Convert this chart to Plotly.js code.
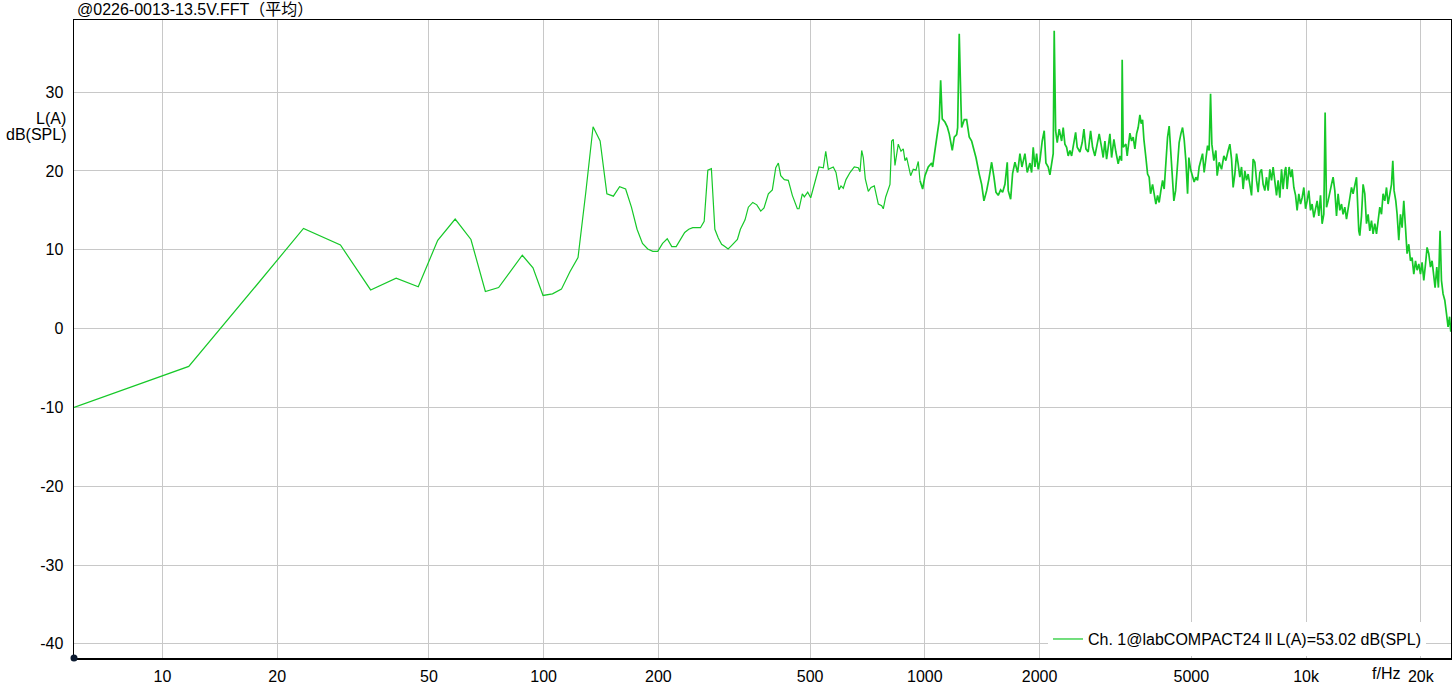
<!DOCTYPE html>
<html>
<head>
<meta charset="utf-8">
<script src="https://cdn.plot.ly/plotly-3.0.1.min.js"></script>
<style>html,body{margin:0;padding:0;background:#fff;}#chart{width:1452px;height:692px;}</style>
</head>
<body>
<div id="chart"></div>
<script>
// FFT bins at low frequency (Hz) and level dB(SPL, A-weighted)
var freqLow = [5.86,11.72,17.58,23.44,29.30,35.16,41.02,46.88,52.73,58.59,64.45,70.31,76.17,82.03,87.89,93.75,99.61,105.47,111.33,117.19,123.05,128.91,134.77,140.63,146.48,152.34,158.20,164.06,169.92,175.78,181.64,187.50,193.36,199.22,205.08,210.94,216.80,222.66,228.52,234.38,240.23,246.09,251.95,257.81,263.67,269.53,275.39,281.25,287.11,292.97,298.83,304.69,310.55,316.41,322.27,328.13];
var levelLow = [-10.0,-4.8,5.4,12.7,10.6,4.9,6.4,5.3,11.2,13.9,11.3,4.7,5.2,7.4,9.3,7.7,4.2,4.4,5.0,7.2,9.0,17.2,25.6,23.8,17.1,16.8,18.0,17.7,15.4,12.6,10.8,10.1,9.8,9.8,10.8,11.4,10.4,10.4,11.3,12.2,12.6,12.8,12.8,12.8,13.6,20.1,20.3,12.6,11.5,10.7,10.4,10.1,10.5,10.9,11.3,12.6];

var freqMid = [337.5,344.3,353.6,362.3,371.1,378.5,388.5,398.0,406.3,412.7,418.7,427.9,438.3,449.1,454.5,462.9,467.6,477.0,482.8,492.8,501.8,511.9,527.6,541.5,549.5,558.1,575.1,584.6,595.3,602.5,610.9,621.0,636.2,652.9,668.9,675.8,682.8,689.4,697.8,710.5,722.3,736.8,754.8,770.4,777.8,789.3,801.7,810.0,818.3,826.3,834.8,851.6,865.6,877.7,886.8,895.9,917.7,932.3,947.6,960.9,970.8];
var levelMid = [13.8,15.4,16.0,15.7,14.9,15.3,17.1,17.6,20.4,21.0,19.4,18.9,18.8,16.9,16.2,15.2,15.2,17.1,16.7,17.3,16.6,18.3,20.5,20.4,22.5,20.2,20.5,19.8,17.6,18.1,17.8,18.9,19.8,20.5,20.4,19.9,22.6,21.7,19.0,17.4,17.9,18.1,15.8,15.6,15.2,16.7,17.8,18.3,23.8,24.0,20.7,23.4,22.5,22.8,21.3,21.7,19.4,20.2,20.1,21.2,18.8];

var freqK1 = [986.7,1000.6,1020.7,1041.8,1048.1,1062.8,1077.7,1090.7,1100.0,1110.7,1129.0,1144.8,1158.6,1179.9,1194.2,1211.7,1219.0,1230.7,1243.5,1248.7,1268.5,1287.0,1307.3,1326.5,1339.4,1361.5,1388.8,1409.1,1428.8,1452.3,1472.5,1496.8,1517.8,1536.2,1557.6,1580.3,1599.5,1622.0,1644.7,1654.6,1678.7,1699.1,1723.0,1751.3,1775.7,1797.3,1830.2,1855.8,1886.2,1905.6,1924.1,1944.1,1964.1,1983.1,2003.6,2031.7,2056.3,2077.5,2106.6,2128.3,2150.2,2171.1,2184.3,2203.2,2224.3,2251.1,2284.1,2306.2,2330.1,2354.2,2377.0,2401.5,2426.2,2460.3,2486.0,2509.8,2551.0,2586.7,2613.4,2645.1,2682.1,2721.2,2754.2,2792.9,2832.0,2866.2];
var levelK1 = [17.7,19.4,20.5,21.0,20.5,22.6,24.7,26.4,31.5,26.6,26.2,25.6,24.7,22.6,24.3,24.6,25.5,37.4,28.5,25.5,26.5,26.5,24.3,23.8,23.0,21.7,19.6,18.3,16.2,17.5,19.0,21.1,19.2,17.3,16.9,17.6,17.3,18.3,21.1,17.5,16.4,19.7,21.1,19.8,22.2,20.5,22.2,19.8,21.0,19.8,23.0,20.5,22.2,20.2,21.3,23.8,25.1,21.0,20.5,19.5,20.9,22.2,37.8,25.1,23.6,25.3,23.8,25.5,23.4,23.0,21.9,22.6,21.9,23.4,24.9,23.0,22.4,23.6,25.3,22.8,22.4,25.1,23.0,21.9,23.6,24.7];

var freqK2 = [2908.0,2936.3,2966.7,2997.3,3026.4,3057.6,3089.1,3132.4,3170.4,3214.8,3247.9,3281.4,3293.4,3313.2,3367.8,3394.4,3450.0,3485.5,3519.3,3555.8,3592.5,3627.3,3664.8,3693.8,3724.9,3754.5,3800.0,3839.2,3876.3,3909.3,3956.7,3995.3,4036.6,4078.2,4117.5,4160.3,4203.0,4244.0,4287.8,4332.0,4373.8,4411.0,4454.1,4500.1,4547.2,4590.7,4646.0,4694.3,4742.5,4788.7,4838.2,4888.1,4926.4,4977.2,5037.7,5086.8,5139.3,5192.3,5242.4,5296.8,5351.2,5403.4,5459.2,5515.5,5568.7,5616.1,5660.6,5729.5,5799.0,5844.8,5915.3,6001.9,6086.1,6159.9,6246.1,6310.5,6375.5,6437.3,6504.0,6571.1,6634.9,6703.3,6772.3,6838.0,6908.9,6980.1,7047.9,7120.5,7193.8,7263.6,7338.9,7414.6,7486.5,7563.7,7641.6,7715.7,7795.7,7876.1,7952.5,8034.5,8117.3,8196.0,8280.9,8366.3,8447.5];
var levelK2 = [23.0,21.7,23.8,21.5,23.0,24.7,21.7,24.0,22.4,20.9,21.9,21.3,34.1,23.0,23.4,21.9,24.8,23.8,24.3,22.8,24.7,25.5,27.1,26.0,26.5,24.0,21.7,19.6,19.2,17.1,18.3,17.3,15.8,16.9,16.0,17.5,18.8,17.7,20.7,24.3,25.7,23.0,19.2,16.2,17.5,20.2,23.6,24.7,25.5,24.0,21.3,17.1,21.7,20.2,19.2,18.6,19.2,18.8,20.5,21.3,22.2,19.8,21.9,23.2,22.6,29.8,23.4,21.3,22.6,19.4,21.1,20.2,21.9,21.3,22.6,23.4,21.5,17.9,19.6,22.2,20.9,19.2,20.5,17.7,20.0,18.8,19.6,17.9,16.9,21.5,21.1,18.8,17.3,19.8,20.2,18.3,17.5,19.2,17.5,20.2,18.8,20.5,18.3,16.9,18.8];

var freqK3 = [8534.6,8622.5,8706.2,8796.4,8849.5,8919.5,9027.1,9120.7,9192.7,9287.6,9384.9,9474.7,9571.7,9670.5,9764.9,9865.7,9969.1,10064.4,10167.5,10272.5,10372.7,10479.8,10589.6,10690.8,10800.3,10911.8,11018.3,11132.1,11220.4,11315.0,11424.7,11542.6,11661.5,11774.6,11896.6,12019.3,12135.9,12261.0,12387.3,12507.4,12637.0,12767.4,12891.2,13024.2,13158.4,13286.0,13423.7,13562.1,13644.2,13750.9,13834.9,13977.4,14113.0,14259.2,14406.3,14546.0,14696.0,14847.4,14991.4,15146.7,15302.9,15451.4,15610.7,15771.5,15924.5,16089.5,16255.4,16413.1,16582.4,16753.2,16885.9,17018.5,17194.3,17330.3,17507.7,17688.5,17861.1,18045.5,18234.5,18408.9,18597.4,18789.5,18972.8,19168.7,19369.5,19554.8,19755.0,19959.0,20153.8,20361.9,20575.1,20771.9,20984.6,21201.3,21408.2,21629.2,21800.9,22024.7,22242.1,22467.1,22657.7,22877.5,23114.5,23352.9,23579.4,23800,23967];
var levelK3 = [16.6,20.2,17.7,20.0,20.5,17.7,20.5,19.2,20.2,17.9,16.9,15.0,17.1,15.8,16.6,17.9,15.2,16.2,17.5,15.0,15.8,14.1,15.0,16.2,14.3,16.9,13.3,14.5,27.4,15.4,16.2,17.5,18.3,19.2,17.5,14.3,17.1,15.0,15.8,14.5,15.4,13.9,15.2,16.2,17.9,17.1,18.3,19.2,16.2,12.4,11.8,14.3,18.3,17.1,13.3,14.5,12.4,13.7,12.0,13.3,12.0,13.7,15.4,14.5,17.1,16.2,17.9,15.8,17.1,18.3,21.3,17.5,16.2,14.5,11.2,14.5,12.8,16.2,12.8,9.5,10.7,8.6,9.0,6.9,8.6,7.4,8.2,6.9,8.4,6.1,8.2,10.3,9.5,7.8,8.6,6.9,5.2,7.8,5.2,12.4,6.1,4.4,3.6,1.9,0.2,1.5,-0.4];

var xTickVals = [10,20,50,100,200,500,1000,2000,5000,10000,20000];
var xTickText = ['10','20','50','100','200','500','1000','2000','5000','10k','20k'];
var yTickVals = [-40,-30,-20,-10,0,10,20,30];
var yTickText = ['-40','-30','-20','-10','0','10','20','30'];

var titleText = '@0226-0013-13.5V.FFT（平均）';
var seriesName = 'Ch. 1@labCOMPACT24 ll L(A)=53.02 dB(SPL)';

// below ~1 kHz the line is sparse; above it the FFT bins are dense (thicker band)
var freqA = freqLow.concat(freqMid);
var levelA = levelLow.concat(levelMid);
var freqB = freqMid.slice(-1).concat(freqK1, freqK2, freqK3);
var levelB = levelMid.slice(-1).concat(levelK1, levelK2, levelK3);

var FONT = 'Liberation Sans, Arial, Noto Sans CJK SC, sans-serif';
var GREEN = 'rgb(22,200,40)';
var FS = 16;

var traceA = {
  x: freqA, y: levelA, type: 'scatter', mode: 'lines',
  name: seriesName, legendgroup: 'ch1',
  line: {color: GREEN, width: 1.2}
};
var traceB = {
  x: freqB, y: levelB, type: 'scatter', mode: 'lines',
  name: seriesName, legendgroup: 'ch1', showlegend: false,
  line: {color: GREEN, width: 1.7}
};

var plotW = 1377, plotH = 638;
var layout = {
  width: 1452, height: 692,
  margin: {l: 74, r: 1, t: 20, b: 34},
  paper_bgcolor: '#fff', plot_bgcolor: '#fff',
  font: {family: FONT, size: FS, color: '#000'},
  showlegend: true,
  legend: {x: (1426-74)/plotW, xanchor: 'right', y: 0.003, yanchor: 'bottom', bgcolor: '#fff', borderwidth: 0, font: {family: FONT, size: FS, color: '#000'}},
  xaxis: {
    type: 'log', range: [Math.log10(5.86), Math.log10(24000)],
    tickvals: xTickVals, ticktext: xTickText,
    showgrid: true, gridcolor: '#c8c8c8', gridwidth: 1,
    showline: true, linecolor: '#000', linewidth: 1.5, mirror: true,
    ticks: '', zeroline: false, ticklabelstandoff: 3,
    tickfont: {family: FONT, size: FS, color: '#000'}
  },
  yaxis: {
    range: [-41.8, 39.15],
    tickvals: yTickVals, ticktext: yTickText,
    showgrid: true, gridcolor: '#c8c8c8', gridwidth: 1,
    showline: true, linecolor: '#000', linewidth: 1.5, mirror: true,
    ticks: '', zeroline: false, ticklabelstandoff: 6,
    tickfont: {family: FONT, size: FS, color: '#000'}
  },
  annotations: [
    {text: titleText, xref: 'paper', yref: 'paper', x: 0, y: 1, xanchor: 'left', yanchor: 'bottom', xshift: 1, yshift: 0, showarrow: false, font: {family: FONT, size: FS, color: '#000'}},
    {text: 'L(A)', xref: 'paper', yref: 'paper', x: 0, y: (658-118)/plotH, xanchor: 'right', yanchor: 'middle', xshift: -6, showarrow: false, font: {family: FONT, size: FS, color: '#000'}},
    {text: 'dB(SPL)', xref: 'paper', yref: 'paper', x: 0, y: (658-134)/plotH, xanchor: 'right', yanchor: 'middle', xshift: -6, showarrow: false, font: {family: FONT, size: FS, color: '#000'}},
    {text: 'f/Hz', xref: 'paper', yref: 'paper', x: (1386-74)/plotW, y: 0, xanchor: 'center', yanchor: 'top', yshift: -5, showarrow: false, font: {family: FONT, size: FS, color: '#000'}}
  ],
  shapes: [
    {type: 'circle', xref: 'paper', yref: 'paper', x0: -3.5/plotW, x1: 3.5/plotW, y0: -3.5/plotH, y1: 3.5/plotH, fillcolor: '#0b1a30', line: {color: '#0b1a30', width: 0}, layer: 'above'}
  ]
};

Plotly.newPlot('chart', [traceA, traceB], layout, {displayModeBar: false, staticPlot: true});
</script>
</body>
</html>
